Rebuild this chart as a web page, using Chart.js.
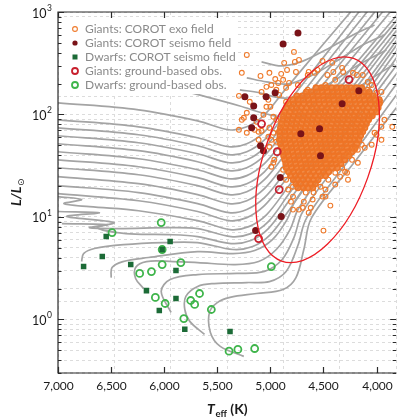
<!DOCTYPE html>
<html>
<head>
<meta charset="utf-8">
<script src="https://cdn.jsdelivr.net/npm/chart.js@4.4.1/dist/chart.umd.min.js"></script>
<style>
  html, body { margin: 0; padding: 0; background: #fff; }
  #wrap { width: 402px; height: 418px; position: relative; }
</style>
</head>
<body>
<div id="wrap"><canvas id="hr"></canvas></div>
<script>
// axis ticks
const xTickValues = [7000, 6500, 6000, 5500, 5000, 4500, 4000];
const yDecades = [1, 10, 100, 1000];

// evolutionary tracks, [Teff, L]
const tracks = [
  // upper loops
  [[5083,326],[4898,298],[4713,326],[4481,426],[4222,597],[4019,747]],
  [[5222,228],[5037,208],[4833,199],[4620,238],[4389,326],[4130,477],[3926,597]],
  [[5287,174],[5102,163],[4898,145],[4667,155],[4435,203],[4185,298],[3907,426]],
  [[5778,166],[5287,121],[5037,101],[4806,92.8],[4574,106],[4315,145],[4065,218],[3833,311]],
  // tracks crossing from the left edge
  [[7000,130],[6241,111],[5685,86.7],[5389,70.9],[5222,75.8],[5056,99.3],[4870,170],[4556,417],[4148,1309]],
  [[7000,88.7],[6241,75.8],[5685,59.3],[5389,48.4],[5222,51.8],[5056,67.8],[4870,116],[4519,341],[4079,1309]],
  [[7000,74.1],[6241,63.4],[5685,49.5],[5389,40.5],[5222,43.3],[5056,56.6],[4870,97],[4481,311],[4000,1309]],
  [[7000,62],[6241,53],[5685,41.4],[5389,33.8],[5222,36.1],[5056,47.3],[4870,81.1],[4444,285],[3926,1309]],
  [[7000,51.8],[6241,44.3],[5685,34.6],[5389,28.3],[5222,30.2],[5056,39.6],[4870,67.8],[4407,260],[3852,1309]],
  [[7000,43.3],[6241,37],[5685,28.9],[5389,23.6],[5222,25.3],[5056,33.1],[4870,56.6],[4370,238],[3778,1309]],
  [[7000,36.1],[6241,30.9],[5685,24.2],[5389,19.7],[5222,21.1],[5056,27.6],[4870,47.3],[4343,208],[3648,1465]],
  [[7000,30.2],[6241,25.8],[5685,20.2],[5389,16.5],[5222,17.6],[5056,23.1],[4870,39.6],[4343,182],[3648,1309]],
  [[7000,24.7],[6241,21.1],[5685,16.5],[5389,13.5],[5222,14.4],[5056,18.9],[4870,32.3],[4343,155],[3648,1197]],
  [[7000,20.2],[6241,17.3],[5685,13.5],[5389,11],[5222,11.8],[5056,15.4],[4870,26.4],[4343,130],[3648,1094]],
  [[7000,16.9],[6241,14.4],[5685,11.3],[5389,9.21],[5222,9.85],[5056,12.9],[4870,22.1],[4343,114],[3648,977]],
  // tracks with main-sequence hooks
  [[7000,15.8],[6778,14.8],[6944,13.5],[6704,12.6],[6241,11.5],[5685,9.21],[5380,7.53],[5204,8.05],[5037,10.5],[4852,18.5],[4333,97],[3648,894]],
  [[6963,8.61],[6537,8.42],[6704,7.87],[6426,7.7],[5963,7.87],[5685,7.7],[5370,6.43],[5185,6.88],[5019,9.01],[4843,15.8],[4333,84.9],[3648,817]],
  [[7000,11.3],[6611,11.0],[6917,10.1],[6472,8.81],[6630,7.87],[6361,6.88],[5963,6.73],[5685,6.43],[5370,5.5],[5185,5.88],[5019,7.7],[4843,13.5],[4333,74.1],[3648,714]],
  // low-mass tracks
  [[6778,3.67],[6759,4.39],[6657,4.92],[6380,5.37],[6009,5.62],[5685,5.62],[5352,4.81],[5167,5.14],[5000,6.73],[4833,11.3],[4324,63.4],[3648,624]],
  [[6500,2.56],[6491,3.21],[6389,3.67],[6148,4.02],[5685,4.59],[5352,4.39],[5148,4.7],[4981,6.01],[4843,9.42],[4759,14.8],[4287,66.3],[3648,510]],
  [[6194,2.0],[6269,2.51],[6269,3.21],[6167,3.67],[5917,3.67],[5685,3.59],[5333,3.43],[5111,3.67],[4944,4.81],[4815,7.53],[4731,12.3],[4278,55.4],[3648,426]],
  [[5935,1.17],[6028,1.87],[5944,2.45],[5685,2.74],[5315,2.81],[5056,2.94],[4889,3.84],[4778,6.29],[4694,11.3],[4250,47.3],[3648,341]],
  [[5620,0.714],[5759,0.957],[5806,1.25],[5796,1.68],[5685,2.1],[5528,2.24],[5222,2.29],[5009,2.34],[4852,2.94],[4741,5.26],[4657,9.85],[4231,39.6],[3648,266]],
  [[5250,0.436],[5472,0.546],[5565,0.747],[5574,1.17],[5500,1.46],[5380,1.64],[5130,1.79],[4880,1.96],[4759,2.56],[4685,4.81],[4611,9.85],[4213,33.8],[3648,194]]
];

// Giants: COROT exo field - dense part, [L, [Teff...]]
const exoCoreRows = [
  [182, [4570,4520,4475,4420,4380,4330,4285,4240,4190,4140]],
  [166, [4660,4615,4560,4510,4465,4415,4370,4320,4275,4225,4180,4120,4070]],
  [152, [4750,4700,4655,4600,4550,4505,4455,4410,4360,4310,4265,4215,4170,4120,4075,4030]],
  [139, [4790,4740,4690,4640,4595,4545,4495,4450,4400,4355,4305,4255,4210,4160,4110,4060,4015,3975]],
  [127, [4830,4780,4735,4685,4635,4590,4540,4490,4445,4395,4345,4300,4250,4200,4155,4105,4055,4010,3975]],
  [116, [4850,4800,4755,4705,4660,4610,4560,4515,4465,4420,4370,4320,4275,4225,4180,4130,4080,4030,3985]],
  [106, [4865,4815,4770,4720,4675,4625,4580,4530,4480,4435,4385,4340,4290,4240,4195,4145,4095,4045,4000]],
  [97, [4875,4830,4780,4735,4685,4640,4590,4545,4495,4450,4400,4355,4305,4260,4210,4165,4115,4070,4040]],
  [88.7, [4885,4840,4790,4745,4695,4650,4600,4555,4505,4460,4410,4365,4315,4270,4220,4175,4125,4075]],
  [81.1, [4895,4850,4800,4755,4705,4660,4610,4565,4515,4470,4420,4375,4325,4280,4230,4185,4135,4095]],
  [74.1, [4905,4860,4810,4765,4715,4670,4620,4575,4525,4480,4430,4385,4335,4290,4240,4195,4145,4110]],
  [67.8, [4915,4865,4820,4770,4725,4675,4630,4580,4535,4485,4440,4390,4345,4295,4250,4200,4155,4130]],
  [62.0, [4910,4860,4815,4765,4720,4670,4625,4575,4530,4480,4435,4385,4340,4290,4245,4195,4150]],
  [56.6, [4915,4870,4820,4775,4725,4680,4630,4585,4535,4490,4440,4395,4345,4300,4250,4205,4165]],
  [51.8, [4905,4860,4810,4765,4715,4670,4620,4575,4525,4480,4430,4385,4335,4290,4240,4185]],
  [47.3, [4895,4850,4800,4755,4705,4660,4610,4565,4515,4470,4420,4375,4325,4280,4230,4200]],
  [43.3, [4885,4840,4790,4745,4695,4650,4600,4555,4505,4460,4410,4365,4315,4270,4230]],
  [39.6, [4875,4830,4780,4735,4685,4640,4590,4545,4495,4450,4400,4355,4305,4260]],
  [36.1, [4865,4820,4770,4725,4675,4630,4580,4535,4485,4440,4390,4345,4300]],
  [33.1, [4855,4810,4760,4715,4665,4620,4570,4525,4475,4430,4380,4335]],
  [30.2, [4850,4800,4755,4705,4660,4610,4565,4515,4470,4420,4370]],
  [27.6, [4830,4785,4735,4690,4640,4595,4545,4500,4450]],
  [25.3, [4810,4765,4715,4670,4620,4575,4525,4480]],
  [23.1, [4785,4740,4690,4640,4595,4550]],
  [21.1, [4760,4715,4665,4620,4575]],
  [19.3, [4740,4690,4645,4600]]
];

// Giants: COROT exo field - scattered stars, [Teff, L]
const exoSparse = [
  [5222,381],[4778,408],[4731,341],[4769,326],[4870,319],[4509,333],[5269,255],[5093,238],[4954,222],
  [4880,218],[4898,249],[4759,260],[4639,260],[4556,272],[4463,243],[4407,260],[4315,260],[4222,255],
  [4130,243],[4083,208],[4083,174],[4000,163],[4324,285],[4417,319],[4991,194],[5037,186],[4944,174],
  [4852,182],[4917,155],[4852,133],[5019,139],[5000,119],[5194,133],[5296,70.9],[5222,104],[5250,92.8],
  [5065,99.3],[5130,84.9],[5083,69.3],[4972,66.3],[4898,79.3],[4880,99.3],[5009,255],[4843,272],[4824,203],
  [4926,203],[5083,166],[5296,152],[5148,70.9],[5019,60.6],[4991,56.6],[5111,56.6],[5009,48.4],[4944,88.7],
  [4741,194],[4648,243],[4583,255],[4648,174],[4481,194],[4389,218],[4185,243],[4046,194],[3954,166],
  [3963,133],[3926,88.7],[3954,75.8],[4019,66.3],[3852,75.8],[4111,47.3],[4046,50.7],[3954,56.6],[4000,63.4],
  [4176,45.3],[4231,36.1],[4176,33.8],[4296,27.6],[4343,24.7],[4269,23.1],[4389,20.7],[4481,18.5],[4435,12.9],
  [4509,15.8],[4787,19.7],[4852,23.1],[4833,18.5],[4787,15.8],[4667,17.3],[4602,14.8],[4731,11.8],[4639,11.0],
  [4972,33.8],[4991,30.9],[4880,28.9],[4806,14.1],[4787,11.8],[4694,12.3],[4620,12.3],[4593,17.3],[4528,19.7],
  [4454,23.1],[4389,27.0],[4324,30.2],[4278,27.0],[4500,7.36],[4481,15.8],[4944,54.2],[4963,36.1],[5269,88.7],
  [5222,66.3],[5111,67.8],[5037,119],[4972,94.9],[5009,74.1],[4685,14.1],[4204,45.3],[4139,50.7],[4361,36.1],
  [4269,40.5]
];

const giantsSeismo = [
  [4740,624],[4880,488],[5240,149],[5040,149],[4955,163],[5157,121],[5157,93],[5176,74],[5093,49.5],
  [5065,44.3],[4713,65],[4537,72.5],[4324,127],[4167,170],[4528,39.5],[4907,24.2],[4898,10.1],[5139,7.36]
];
const dwarfsSeismo = [
  [6546,6.43],[5944,5.75],[6019,4.81],[6583,4.11],[6759,3.28],[6315,3.43],[5889,3.0],[6167,1.91],
  [5889,1.60],[6046,1.22],[5806,0.80],[5380,0.764]
];
const giantsGround = [[4259,219],[5083,81],[4935,43.3],[4917,18.5],[5111,6.15]];
const dwarfsGround = [
  [6028,8.81],[6491,7.04],[6019,4.81],[5843,3.59],[6019,3.43],[6120,2.93],[6231,2.81],[6083,1.64],
  [5991,1.43],[5750,1.53],[5713,1.40],[5667,1.79],[5556,1.25],[5815,1.02],[5389,0.49],[5306,0.51],
  [5148,0.52],[4991,3.28]
];

// red ellipse: ends of its long and short axes, [Teff, L]
const ellipseMajor = [[4216,352],[4895,3.71]];
const ellipseMinor = [[4085,23.9],[5026,54.7]];

const legendLabels = [
  "Giants: COROT exo field",
  "Giants: COROT seismo field",
  "Dwarfs: COROT seismo field",
  "Giants: ground-based obs.",
  "Dwarfs: ground-based obs."
];

const ORANGE = '#ef7a2b', DKRED = '#7a1318', DKGREEN = '#1c6b37', RING_RED = '#c8202e', RING_GREEN = '#3fb54b';

const pts = arr => arr.map(p => ({x: p[0], y: p[1]}));
const corePoints = [];
exoCoreRows.forEach(r => r[1].forEach(t => corePoints.push({x: t, y: r[0]})));

const datasets = [
  {label: legendLabels[2], data: pts(dwarfsSeismo), pointStyle: 'rect', pointRadius: 3.9,
   backgroundColor: DKGREEN, borderWidth: 0, order: 0},
  {label: legendLabels[4], data: pts(dwarfsGround), pointRadius: 3.5, borderWidth: 1.8,
   borderColor: RING_GREEN, backgroundColor: 'rgba(0,0,0,0)', order: 1},
  {label: legendLabels[3], data: pts(giantsGround), pointRadius: 3.5, borderWidth: 1.8,
   borderColor: RING_RED, backgroundColor: 'rgba(0,0,0,0)', order: 2},
  {label: legendLabels[1], data: pts(giantsSeismo), pointRadius: 3.5, borderWidth: 0,
   backgroundColor: DKRED, order: 3},
  {label: legendLabels[0], data: pts(exoSparse), pointRadius: 2.4, borderWidth: 1.1,
   borderColor: ORANGE, backgroundColor: 'rgba(0,0,0,0)', order: 4},
  {label: legendLabels[0], data: corePoints, pointRadius: 2.7, borderWidth: 1.5,
   borderColor: '#ee7426', backgroundColor: 'rgba(240,118,36,0.85)', order: 5}
];
tracks.forEach(t => datasets.push({
  data: pts(t), showLine: true, pointRadius: 0, borderColor: '#a4a4a4', borderWidth: 1.7,
  tension: 0.35, fill: false, order: 10
}));

const decor = {
  id: 'decor',
  afterDatasetsDraw(chart) {
    const {ctx, chartArea: a, scales: {x, y}} = chart;
    // ellipse through the library scales
    const px = p => [x.getPixelForValue(p[0]), y.getPixelForValue(p[1])];
    const m1 = px(ellipseMajor[0]), m2 = px(ellipseMajor[1]);
    const n1 = px(ellipseMinor[0]), n2 = px(ellipseMinor[1]);
    const cx = (m1[0] + m2[0]) / 2, cy = (m1[1] + m2[1]) / 2;
    const ra = Math.hypot(m2[0] - m1[0], m2[1] - m1[1]) / 2;
    const rb = Math.hypot(n2[0] - n1[0], n2[1] - n1[1]) / 2;
    const rot = Math.atan2(m2[1] - m1[1], m2[0] - m1[0]);
    ctx.save();
    ctx.beginPath();
    ctx.ellipse(cx, cy, ra, rb, rot, 0, Math.PI * 2);
    ctx.strokeStyle = '#ee1c24';
    ctx.lineWidth = 1.3;
    ctx.stroke();

    // legend
    ctx.fillStyle = '#fff';
    ctx.fillRect(a.left + 1, a.top + 6, 177, 76);
    ctx.font = '12px Lato, "Open Sans", sans-serif';
    ctx.textBaseline = 'middle';
    ctx.textAlign = 'left';
    legendLabels.forEach((lab, i) => {
      const ly = a.top + 17 + i * 14, lx = a.left + 17;
      ctx.beginPath();
      if (i === 0) { ctx.arc(lx, ly, 2.4, 0, Math.PI * 2); ctx.strokeStyle = ORANGE; ctx.lineWidth = 1.1; ctx.stroke(); }
      if (i === 1) { ctx.arc(lx, ly, 2.6, 0, Math.PI * 2); ctx.fillStyle = DKRED; ctx.fill(); }
      if (i === 2) { ctx.fillStyle = DKGREEN; ctx.fillRect(lx - 2.5, ly - 2.5, 5, 5); }
      if (i === 3) { ctx.arc(lx, ly, 3, 0, Math.PI * 2); ctx.strokeStyle = RING_RED; ctx.lineWidth = 1.8; ctx.stroke(); }
      if (i === 4) { ctx.arc(lx, ly, 3, 0, Math.PI * 2); ctx.strokeStyle = RING_GREEN; ctx.lineWidth = 1.8; ctx.stroke(); }
      ctx.fillStyle = '#8a8a8a';
      ctx.fillText(lab, a.left + 27, ly + 0.5);
    });
    ctx.restore();
  },
  afterDraw(chart) {
    const {ctx, chartArea: a, scales: {x, y}} = chart;
    ctx.save();
    ctx.strokeStyle = '#2b2b2b';
    ctx.lineWidth = 1.2;
    ctx.beginPath();
    ctx.moveTo(a.right, a.top); ctx.lineTo(a.left, a.top);
    ctx.lineTo(a.left, a.bottom); ctx.lineTo(a.right, a.bottom);
    ctx.stroke();

    // x ticks and labels
    ctx.fillStyle = '#1a1a1a';
    ctx.font = '12px Lato, "Open Sans", sans-serif';
    ctx.textAlign = 'center';
    ctx.textBaseline = 'top';
    xTickValues.forEach(v => {
      const px = Math.round(x.getPixelForValue(v)) + 0.5;
      ctx.beginPath();
      ctx.moveTo(px, a.bottom); ctx.lineTo(px, a.bottom - 6);
      ctx.moveTo(px, a.top); ctx.lineTo(px, a.top + 6);
      ctx.stroke();
      ctx.fillText(v.toLocaleString('en-US'), px, a.bottom + 7);
    });

    // y ticks (log minor + major)
    y.ticks.forEach(t => {
      const v = t.value;
      const e = Math.floor(Math.log10(v) + 1e-9);
      const s = v / Math.pow(10, e);
      if (Math.abs(s - Math.round(s)) > 0.01) return;
      const major = Math.abs(s - 1) < 0.01;
      const py = Math.round(y.getPixelForValue(v)) + 0.5;
      if (py < a.top - 1 || py > a.bottom + 1) return;
      const len = major ? 6 : 3.5;
      ctx.beginPath();
      ctx.moveTo(a.left, py); ctx.lineTo(a.left + len, py);
      ctx.moveTo(a.right, py); ctx.lineTo(a.right - len, py);
      ctx.stroke();
    });

    // y labels 10^n
    yDecades.forEach(v => {
      const py = y.getPixelForValue(v);
      ctx.textBaseline = 'middle';
      ctx.textAlign = 'right';
      ctx.font = '8.5px Lato, "Open Sans", sans-serif';
      const supTxt = String(Math.round(Math.log10(v)));
      const sw = ctx.measureText(supTxt).width;
      ctx.fillText(supTxt, a.left - 6, py - 4);
      ctx.font = '12.5px Lato, "Open Sans", sans-serif';
      ctx.fillText('10', a.left - 6 - sw - 0.5, py + 1.5);
    });

    // axis titles
    ctx.textAlign = 'left';
    ctx.textBaseline = 'alphabetic';
    ctx.font = 'italic bold 14px Lato, "Open Sans", sans-serif';
    const tW = ctx.measureText('T').width;
    ctx.font = 'bold 9.5px Lato, "Open Sans", sans-serif';
    const eW = ctx.measureText('eff').width;
    ctx.font = 'bold 14px Lato, "Open Sans", sans-serif';
    const kW = ctx.measureText(' (K)').width;
    let tx = (a.left + a.right) / 2 - (tW + eW + kW) / 2;
    const ty = 414;
    ctx.font = 'italic bold 14px Lato, "Open Sans", sans-serif';
    ctx.fillText('T', tx, ty); tx += tW + 0.5;
    ctx.font = 'bold 9.5px Lato, "Open Sans", sans-serif';
    ctx.fillText('eff', tx, ty + 3); tx += eW;
    ctx.font = 'bold 14px Lato, "Open Sans", sans-serif';
    ctx.fillText(' (K)', tx, ty);

    ctx.translate(21, (a.top + a.bottom) / 2);
    ctx.rotate(-Math.PI / 2);
    ctx.font = 'italic bold 14px Lato, "Open Sans", sans-serif';
    const lw = ctx.measureText('L/L').width;
    ctx.font = '9px "DejaVu Sans", sans-serif';
    const sw2 = ctx.measureText('\u2299').width;
    const sx = -(lw + sw2) / 2;
    ctx.font = 'italic bold 14px Lato, "Open Sans", sans-serif';
    ctx.fillText('L/L', sx, 0);
    ctx.font = '9px "DejaVu Sans", sans-serif';
    ctx.fillText('\u2299', sx + lw + 0.5, 3);
    ctx.restore();
  }
};

new Chart(document.getElementById('hr'), {
  type: 'scatter',
  data: {datasets: datasets},
  options: {
    responsive: true,
    maintainAspectRatio: false,
    animation: false,
    devicePixelRatio: 1,
    events: [],
    layout: {padding: {left: 58, top: 12, right: 0, bottom: 45}},
    plugins: {legend: {display: false}, tooltip: {enabled: false}},
    scales: {
      x: {
        type: 'linear', reverse: true, min: 3815, max: 7000,
        ticks: {display: false, stepSize: 500, includeBounds: false},
        grid: {color: '#dcdcdc', lineWidth: 1, drawTicks: false},
        border: {display: false, dash: [3, 3]}
      },
      y: {
        type: 'logarithmic', min: 0.305, max: 1000,
        ticks: {display: false},
        grid: {color: '#dcdcdc', lineWidth: 1, drawTicks: false},
        border: {display: false, dash: [3, 3]}
      }
    }
  },
  plugins: [decor]
});
</script>
</body>
</html>
